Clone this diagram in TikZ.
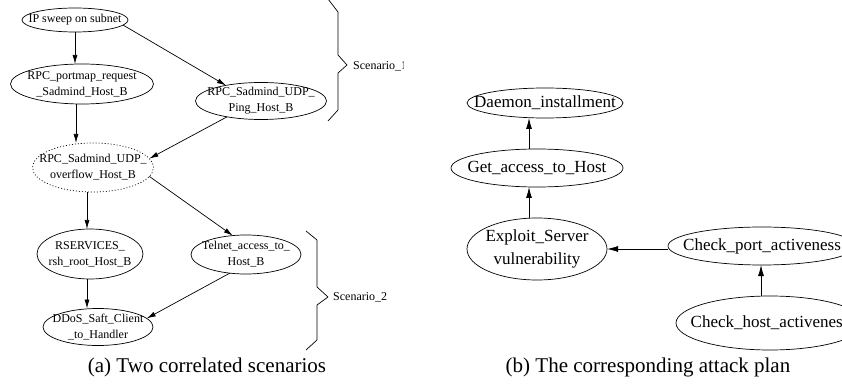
\documentclass[tikz,border=0pt]{standalone}
\usepackage{fontspec}
\setmainfont{Liberation Serif}
\usetikzlibrary{arrows.meta,shapes.geometric}
\begin{document}
\begin{tikzpicture}[x=1pt,y=-1pt,
  ell/.style 2 args={draw, ellipse, inner sep=0pt, outer sep=0pt, minimum width=#1pt, minimum height=#2pt, line width=0.7pt},
  dottedell/.style={dash pattern=on 1pt off 2pt},
  lt/.style={font=\fontsize{12}{16}\selectfont, align=center, inner sep=0pt},
  rt/.style={font=\fontsize{17}{23}\selectfont, align=center, inner sep=0pt},
  captext/.style={font=\fontsize{21}{25}\selectfont, inner sep=0pt},
  arr/.style={-{Latex[length=9pt,width=5pt]}, line width=0.7pt},
  rarr/.style={-{Latex[length=11pt,width=6pt]}, line width=0.8pt},
  bracestyle/.style={line width=0.7pt, line join=round}
]
\useasboundingbox (0,0) rectangle (842,387);
\clip (0,0) rectangle (842,387);

% ---------- left panel ----------
\node[ell={106}{24}] (ip) at (75,20) {};
\node[lt] (ipt) at (ip) {IP sweep on subnet};
\node[ell={143}{40}] (pm) at (82,84) {};
\node[lt] (pmt) at (pm) {RPC\_portmap\_request\\\_Sadmind\_Host\_B};
\node[ell={131}{37}] (ping) at (261,101) {};
\node[lt] (pingt) at (ping) {RPC\_Sadmind\_UDP\_\\Ping\_Host\_B};
\node[ell={121}{49}, dottedell] (ov) at (93,167.5) {};
\node[lt] (ovt) at (ov) {RPC\_Sadmind\_UDP\_\\overflow\_Host\_B};
\node[ell={106}{50}] (rs) at (90,254) {};
\node[lt] (rst) at (rs) {RSERVICES\_\\rsh\_root\_Host\_B};
\node[ell={110}{39}] (tel) at (246,254.5) {};
\node[lt] (telt) at (tel) {Telnet\_access\_to\_\\Host\_B};
\node[ell={110}{37}] (dd) at (98,327) {};
\node[lt] (ddt) at (dd) {DDoS\_Saft\_Client\\\_to\_Handler};

\draw[arr] (ip.south) -- (ip.south |- pm.north);
\draw[arr] (ip.-6) -- (ping.156);
\draw[arr] ([xshift=-6pt]pm.south) -- ([xshift=-6pt]pm.south |- ov.north);
\draw[arr] (ping.205) -- (ov.9);
\draw[arr] ([xshift=-6pt]ov.south) -- ([xshift=-6pt]ov.south |- rs.north);
\draw[arr] (ov.-9) -- (tel.125);
\draw[arr] ([xshift=-3pt]rs.south) -- ([xshift=-3pt]rs.south |- dd.north);
\draw[arr] (tel.229) -- (dd.10);

% braces
\draw[bracestyle] (328,-1) -- (338,12) -- (338,55) -- (347,65) -- (338,73) -- (338,110) -- (328,121);
\begin{scope}
  \clip (345,45) rectangle (403.5,85);
  \node[lt, anchor=west] (sc1) at (353,66) {Scenario\_1};
\end{scope}
\draw[bracestyle] (306,231) -- (317,240) -- (317,287) -- (328,297) -- (317,305) -- (317,340) -- (306,350);
\node[lt, anchor=west] (sc2) at (333,297) {Scenario\_2};

\node[captext] (capa) at (207,367) {(a) Two correlated scenarios};

% ---------- right panel ----------
\node[ell={156}{30}] (dae) at (545,103) {};
\node[rt] (daet) at (dae) {Daemon\_installment};
\node[ell={172}{38}] (get) at (537,168) {};
\node[rt] (gett) at (get) {Get\_access\_to\_Host};
\node[ell={140}{62}] (ex) at (537,249) {};
\node[rt] (ext) at (ex) {Exploit\_Server\\vulnerability};
\node[ell={188}{38}] (port) at (762,246) {};
\node[rt] (portt) at (port) {Check\_port\_activeness};
\node[ell={188}{54}] (host) at (770,323) {};
\node[rt] (hostt) at (host) {Check\_host\_activeness};

\draw[rarr] ([xshift=-8pt]ex.north) -- ([xshift=-8pt]ex.north |- get.south);
\draw[rarr] ([xshift=-8pt]get.north) -- ([xshift=-8pt]get.north |- dae.south);
\draw[rarr] ([yshift=-3pt]port.west) -- ([yshift=-3pt]port.west -| ex.east);
\draw[rarr] ([xshift=-9pt]host.north) -- ([xshift=-9pt]host.north |- port.south);

\node[captext] (capb) at (648,367) {(b) The corresponding attack plan};
\end{tikzpicture}
\end{document}
